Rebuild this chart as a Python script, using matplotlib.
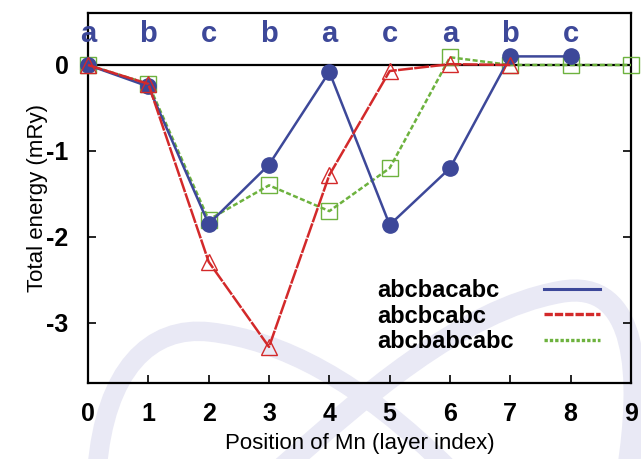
import matplotlib
matplotlib.use("Agg")
import matplotlib.pyplot as plt
from matplotlib.path import Path
from matplotlib.patches import PathPatch
from matplotlib.lines import Line2D

plt.rcParams['font.family'] = ['Liberation Sans', 'DejaVu Sans']
plt.rcParams['axes.unicode_minus'] = False

# Mn layer positions and total energies (mRy) for each stacking sequence
pos_abcbacabc = [0, 1, 2, 3, 4, 5, 6, 7, 8]
e_abcbacabc = [0.0, -0.25, -1.85, -1.16, -0.08, -1.86, -1.20, 0.10, 0.10]

pos_abcbcabc = [0, 1, 2, 3, 4, 5, 6, 7]
e_abcbcabc = [0.0, -0.22, -2.29, -3.28, -1.28, -0.07, 0.01, 0.0]

pos_abcbabcabc = [0, 1, 2, 3, 4, 5, 6, 7, 8, 9]
e_abcbabcabc = [0.0, -0.22, -1.80, -1.40, -1.70, -1.20, 0.09, 0.0, 0.0, 0.0]

# stacking letter of each layer
layer_letters = ['a', 'b', 'c', 'b', 'a', 'c', 'a', 'b', 'c']
letter_level = 0.27

series_names = ['abcbacabc', 'abcbcabc', 'abcbabcabc']
xticks = list(range(10))
yticks = [0, -1, -2, -3]

BLUE = '#3d4899'
RED = '#d3292a'
GREEN = '#6db23e'

W, H = 641, 459
fig = plt.figure(figsize=(W / 100, H / 100), dpi=100)


# faint ribbon emblem in the background (figure pixel coordinates)
def px(x, y):
    return (x / W, 1 - y / H)


ribbons = [
    ([(97, 470), (105, 370), (150, 325), (210, 332),
      (280, 340), (360, 380), (450, 470)], 14),
    ([(280, 470), (360, 400), (460, 310), (560, 292),
      (640, 277), (642, 380), (628, 470)], 16),
]
for pts, width in ribbons:
    verts = [px(*p) for p in pts]
    codes = [Path.MOVETO] + [Path.CURVE4] * (len(verts) - 1)
    patch = PathPatch(Path(verts, codes), facecolor='none', edgecolor='#e9e9f5',
                      lw=width, transform=fig.transFigure, zorder=-5, capstyle='butt')
    fig.add_artist(patch)

ax = fig.add_axes([88 / W, 1 - 383 / H, (631 - 88) / W, (383 - 13) / H])
ax.set_facecolor('none')

ax.axhline(0, color='black', lw=1.6, zorder=1)

ax.plot(pos_abcbabcabc, e_abcbabcabc, color=GREEN, lw=1.8, dashes=(2.0, 1.0),
        marker='s', ms=11, mfc='none', mec=GREEN, mew=1.0, clip_on=False, zorder=3)
ax.plot(pos_abcbacabc, e_abcbacabc, color=BLUE, lw=1.8,
        marker='o', ms=11, mfc=BLUE, mec=BLUE, clip_on=False, zorder=4)
ax.plot(pos_abcbcabc, e_abcbcabc, color=RED, lw=1.8, dashes=(6, 0.5),
        marker='^', ms=12, mfc='none', mec=RED, mew=1.0, clip_on=False, zorder=5)

for i, letter in enumerate(layer_letters):
    ax.text(i, letter_level, letter, ha='center', va='baseline', color=BLUE,
            fontsize=21, fontweight='bold', zorder=6)

ax.set_xlim(0, 9)
ax.set_ylim(-3.70, 0.605)
ax.set_xticks(xticks)
ax.set_yticks(yticks)
ax.tick_params(axis='both', direction='in', length=6, width=1.2, labelsize=18)
ax.tick_params(axis='x', pad=13.5)
ax.tick_params(axis='y', right=True, pad=14)
for lab in ax.get_xticklabels() + ax.get_yticklabels():
    lab.set_fontweight('bold')
for s in ax.spines.values():
    s.set_linewidth(1.6)

ax.set_xlabel('Position of Mn (layer index)', fontsize=16, labelpad=5)
ax.set_ylabel('Total energy (mRy)', fontsize=16, labelpad=-1)

# key: labels on the left, line samples on the right
key_styles = [
    dict(color=BLUE, lw=2.2),
    dict(color=RED, lw=2.4, dashes=(2.5, 0.6)),
    dict(color=GREEN, lw=2.4, dashes=(1.0, 0.6)),
]
key_text_y = [0.2324, 0.1622, 0.0946]
key_line_y = [0.2541, 0.1865, 0.1162]
for name, style, ty, ly in zip(series_names, key_styles, key_text_y, key_line_y):
    ax.text(0.532, ty, name, transform=ax.transAxes, ha='left', va='baseline',
            fontsize=17, fontweight='bold', color='black')
    ax.add_line(Line2D([0.8398, 0.9429], [ly, ly], transform=ax.transAxes, **style))

fig.savefig('out.png', dpi=100)
